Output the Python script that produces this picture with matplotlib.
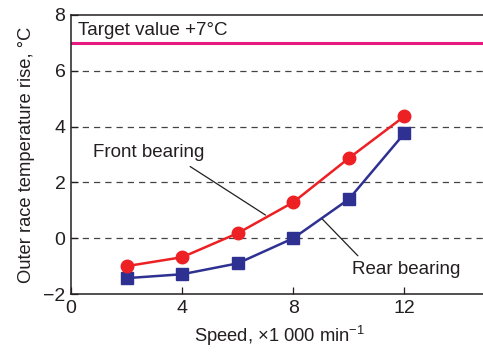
import matplotlib
matplotlib.use("Agg")
import matplotlib.pyplot as plt

plt.rcParams['font.family'] = ['Liberation Sans', 'DejaVu Sans']
plt.rcParams['mathtext.fontset'] = 'custom'
plt.rcParams['mathtext.rm'] = 'Liberation Sans'

speed = [2, 4, 6, 8, 10, 12]
front = [-1.0, -0.68, 0.18, 1.29, 2.87, 4.37]
rear = [-1.43, -1.29, -0.9, 0.0, 1.40, 3.76]
target = 7
grid_levels = [0, 2, 4, 6]
xticks = [0, 4, 8, 12]
yticks = [-2, 0, 2, 4, 6, 8]

fig = plt.figure(figsize=(4.83, 3.56), dpi=100)
ax = fig.add_axes([0.147, 0.174, 0.853 + 0.01, 0.784])

for g in grid_levels:
    ax.axhline(g, color='#444444', lw=0.9, ls=(0, (5, 4)), zorder=1)
ax.axhline(target, color='#e5197e', lw=2.2, zorder=2)
ax.text(0.25, 7.15, 'Target value +7°C', fontsize=13.5, color='#231f20',
        ha='left', va='bottom')

ax.plot(speed, front, color='#ed2024', lw=1.8, marker='o', ms=9, zorder=4)
ax.plot(speed, rear, color='#2e3192', lw=1.8, marker='s', ms=9, zorder=3)

ax.annotate('Front bearing', xy=(7.0, 0.83), xytext=(0.8, 2.75),
            fontsize=13.5, color='#231f20', ha='left', va='bottom',
            arrowprops=dict(arrowstyle='-', color='#231f20', lw=0.9,
                            shrinkA=3, shrinkB=0, relpos=(0.8, 0)))
ax.annotate('Rear bearing', xy=(9.05, 0.68), xytext=(10.1, -0.8),
            fontsize=13.5, color='#231f20', ha='left', va='top',
            arrowprops=dict(arrowstyle='-', color='#231f20', lw=0.9,
                            shrinkA=2, shrinkB=0, relpos=(0.1, 1.0)))

ax.set_xlim(0, 15)
ax.set_ylim(-2, 8)
ax.set_xticks(xticks)
ax.set_yticks(yticks)
ax.tick_params(direction='in', labelsize=14, length=5, width=0.9,
               colors='#231f20', pad=4)
for s in ax.spines.values():
    s.set_linewidth(1.1)
    s.set_color('#231f20')
ax.spines['right'].set_visible(False)

ax.set_xlabel('Speed, ×1 000 min$^{-1}$', fontsize=13.2, color='#231f20', labelpad=5)
ax.set_ylabel('Outer race temperature rise, °C', fontsize=13.2, color='#231f20', labelpad=6)

fig.savefig('out.png', dpi=100)
